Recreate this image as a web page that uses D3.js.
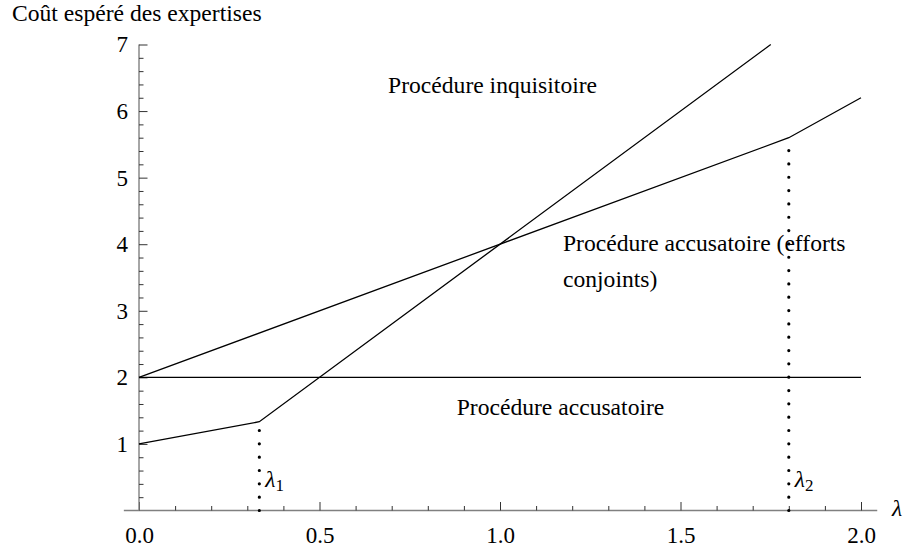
<!DOCTYPE html>
<html>
<head>
<meta charset="utf-8">
<script src="https://cdn.jsdelivr.net/npm/d3@7"></script>
<style>
  body { margin: 0; background: #fff; }
  svg { display: block; }
  svg text { font-family: "Liberation Serif", "DejaVu Serif", "Times New Roman", Times, serif; fill: #000; }
</style>
</head>
<body>
<svg id="chart" width="911" height="548"></svg>
<script>
'use strict'

// curves of the diagram, each a list of [lambda, cost] points
const inquisitoire = [[0, 1], [1 / 3, 4 / 3], [1.75, 7]]
const effortsConjoints = [[0, 2], [1.8, 5.6], [2, 6.2]]
const accusatoire = [[0, 2], [2, 2]]

// thresholds shown with dotted verticals
const thresholds = [
  { x: 1 / 3, y: 4 / 3, sub: '1' },
  { x: 1.8, y: 5.6, sub: '2' }
]

const xMajor = [0, 0.5, 1, 1.5, 2]
const yMajor = [1, 2, 3, 4, 5, 6, 7]

const regionLabels = [
  { lines: ['Procédure inquisitoire'], x: 0.690, y: 6.27 },
  { lines: ['Procédure accusatoire (efforts', 'conjoints)'], x: 1.1745, y: 3.905 },
  { lines: ['Procédure accusatoire'], x: 0.880, y: 1.435 }
]

const FONT = 23.6
const svg = d3.select('#chart')
const x = d3.scaleLinear().domain([0, 2]).range([139, 861])
const y = d3.scaleLinear().domain([0, 7]).range([510.5, 44.5])

const axisColor = '#808080'

// minor ticks first, majors on top
const xMinor = d3.range(0, 2.001, 0.1).filter(v => Math.abs(v * 2 - Math.round(v * 2)) > 1e-6)
const yMinor = d3.range(0, 7.001, 0.2).filter(v => Math.abs(v - Math.round(v)) > 1e-6)

const gx = svg.append('g').attr('transform', `translate(0,${y(0)})`)
gx.append('line')
  .attr('x1', x(-0.042)).attr('x2', x(2.045))
  .attr('stroke', axisColor).attr('stroke-width', 1.4)
gx.append('g').call(d3.axisBottom(x).tickValues(xMinor).tickFormat('').tickSize(-4.5))
gx.append('g').call(d3.axisBottom(x).tickValues(xMajor).tickFormat(d3.format('.1f')).tickSize(-8.5).tickPadding(16))
gx.selectAll('.domain').remove()
gx.selectAll('g').attr('font-family', null).attr('font-size', null)
gx.selectAll('.tick line').attr('stroke', '#333').attr('stroke-width', 1)
gx.selectAll('.tick text').attr('font-size', 23)

const gy = svg.append('g').attr('transform', `translate(${x(0)},0)`)
gy.append('line')
  .attr('y1', y(0)).attr('y2', y(7))
  .attr('stroke', axisColor).attr('stroke-width', 1.4)
gy.append('g').call(d3.axisLeft(y).tickValues(yMinor).tickFormat('').tickSize(-4.5))
gy.append('g').call(d3.axisLeft(y).tickValues(yMajor).tickFormat(d3.format('d')).tickSize(-8.5).tickPadding(11))
gy.selectAll('.domain').remove()
gy.selectAll('g').attr('font-family', null).attr('font-size', null)
gy.selectAll('.tick line').attr('stroke', '#333').attr('stroke-width', 1)
gy.selectAll('.tick text').attr('font-size', 23)

// axis titles
svg.append('text')
  .attr('x', 12).attr('y', 21)
  .attr('font-size', FONT)
  .text('Coût espéré des expertises')

svg.append('text')
  .attr('x', 892).attr('y', 516)
  .attr('font-size', FONT).attr('font-style', 'italic')
  .text('λ')

// threshold dotted lines
const dots = svg.append('g')
dots.selectAll('line')
  .data(thresholds)
  .join('line')
  .attr('x1', d => x(d.x)).attr('x2', d => x(d.x))
  .attr('y1', y(0)).attr('y2', d => y(d.y))
  .attr('stroke', '#000')
  .attr('stroke-width', 3.2)
  .attr('stroke-linecap', 'round')
  .attr('stroke-dasharray', '0 13.33')

const lam = dots.selectAll('text')
  .data(thresholds)
  .join('text')
  .attr('x', d => x(d.x) + 6)
  .attr('y', 487)
  .attr('font-size', FONT)
lam.append('tspan').attr('font-style', 'italic').text('λ')
lam.append('tspan').attr('font-size', 17).attr('dy', 4).text(d => d.sub)

// curves
const line = d3.line().x(d => x(d[0])).y(d => y(d[1]))
svg.append('g')
  .selectAll('path')
  .data([accusatoire, effortsConjoints, inquisitoire])
  .join('path')
  .attr('d', line)
  .attr('fill', 'none')
  .attr('stroke', '#000')
  .attr('stroke-width', 1.3)

// region labels
svg.append('g')
  .selectAll('text')
  .data(regionLabels)
  .join('text')
  .attr('x', d => x(d.x))
  .attr('y', d => y(d.y))
  .attr('font-size', FONT)
  .each(function (d) {
    d3.select(this).selectAll('tspan')
      .data(d.lines)
      .join('tspan')
      .attr('x', x(d.x))
      .attr('dy', (t, i) => i === 0 ? 0 : 36)
      .text(t => t)
  })
</script>
</body>
</html>
